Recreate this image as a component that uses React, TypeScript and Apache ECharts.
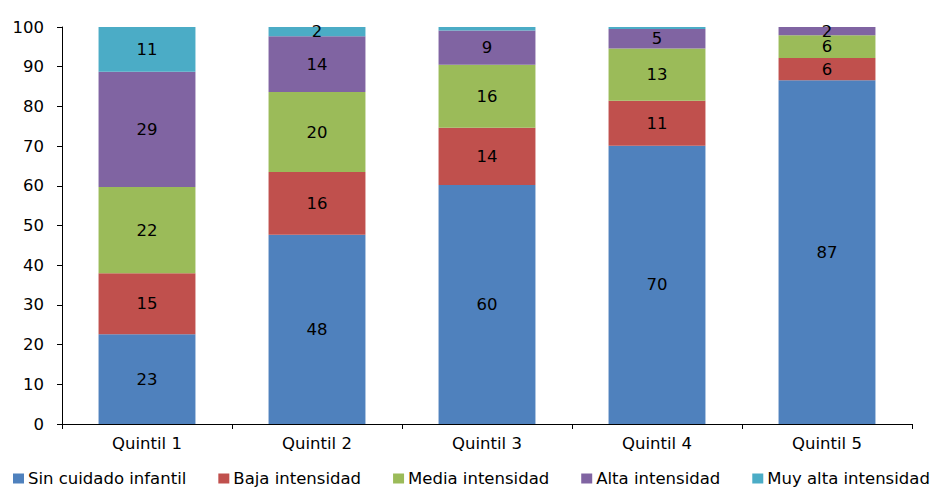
import React, { useEffect, useRef } from "react";
import * as echarts from "echarts";

// Share of children (%) by childcare intensity, per income quintile
const categories = ["Quintil 1", "Quintil 2", "Quintil 3", "Quintil 4", "Quintil 5"];
const seriesNames = [
  "Sin cuidado infantil",
  "Baja intensidad",
  "Media intensidad",
  "Alta intensidad",
  "Muy alta intensidad",
];
const sinCuidado = [22.6, 47.7, 60.2, 70.1, 86.6];
const bajaIntensidad = [15.4, 15.8, 14.4, 11.3, 5.6];
const mediaIntensidad = [21.7, 20.1, 15.9, 13.2, 5.7];
const altaIntensidad = [29.0, 14.1, 8.6, 4.9, 2.1];
const muyAltaIntensidad = [11.3, 2.3, 0.9, 0.5, 0.0];
const yTicks = { min: 0, max: 100, interval: 10 };

const colors = ["#4F81BD", "#C0504D", "#9BBB59", "#8064A2", "#4BACC6"];
const FONT = "DejaVu Sans";

export default function App() {
  const ref = useRef<HTMLDivElement>(null);

  useEffect(() => {
    if (!ref.current) return;
    const chart = echarts.init(ref.current, undefined, { renderer: "svg" });
    const values = [sinCuidado, bajaIntensidad, mediaIntensidad, altaIntensidad, muyAltaIntensidad];

    chart.setOption({
      animation: false,
      color: colors,
      textStyle: { fontFamily: FONT },
      grid: { left: 62, right: 20, top: 27, bottom: 65, containLabel: false },
      legend: {
        data: seriesNames,
        top: 470,
        left: 13,
        padding: 0,
        itemWidth: 11,
        itemHeight: 10,
        itemGap: 32,
        icon: "rect",
        textStyle: { fontFamily: FONT, fontSize: 16.5, color: "#000", padding: [0, 0, 0, -1] },
      },
      xAxis: {
        type: "category",
        data: categories,
        axisLine: { lineStyle: { color: "#000", width: 1 } },
        axisTick: { show: true, length: 5, lineStyle: { color: "#000" } },
        axisLabel: { color: "#000", fontFamily: FONT, fontSize: 16.5, margin: 11 },
      },
      yAxis: {
        type: "value",
        min: yTicks.min,
        max: yTicks.max,
        interval: yTicks.interval,
        splitLine: { show: false },
        axisLine: { show: true, lineStyle: { color: "#000", width: 1 } },
        axisTick: { show: true, length: 5, lineStyle: { color: "#000" } },
        axisLabel: { color: "#000", fontFamily: FONT, fontSize: 16.5, margin: 18 },
      },
      series: seriesNames.map((name, i) => ({
        name,
        type: "bar",
        stack: "total",
        barWidth: "57%",
        data: values[i],
        label: {
          show: true,
          position: "inside",
          color: "#000",
          fontFamily: FONT,
          fontSize: 16.5,
          formatter: (p: any) => (p.value >= 1.5 ? String(Math.round(p.value)) : ""),
        },
      })),
    });

    return () => chart.dispose();
  }, []);

  return (
    <div
      ref={ref}
      style={{ position: "fixed", left: 0, top: 0, width: 932, height: 489, background: "#fff" }}
    />
  );
}
